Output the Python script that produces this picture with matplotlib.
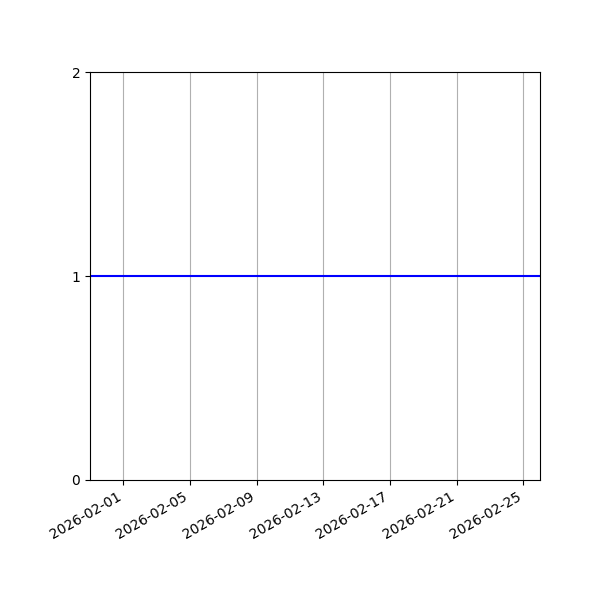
import matplotlib
matplotlib.use('Agg')
import matplotlib.pyplot as plt
import matplotlib.dates as mdates
import numpy as np
import datetime as dt

### Data

start = dt.datetime(2026, 1, 30)
dates = [start + dt.timedelta(days=i) for i in range(28)]
values = [1] * len(dates)

### Plot

fig = plt.figure(figsize=(6, 6), dpi=100)
ax = fig.add_subplot(1, 1, 1)
fig.subplots_adjust(left=0.15, right=0.9, top=0.88, bottom=0.2)

ax.plot(dates, values, color='blue', linewidth=1.5)

ax.set_xlim(dates[0], dates[-1])
ax.set_ylim(0, 2)
ax.set_yticks([0, 1, 2])

ax.xaxis.set_major_locator(mdates.DayLocator(bymonthday=[1, 5, 9, 13, 17, 21, 25]))
ax.xaxis.set_major_formatter(mdates.DateFormatter('%Y-%m-%d'))
ax.grid(True, axis='x', color='#b0b0b0')

for label in ax.get_xticklabels():
    label.set_rotation(30)
    label.set_horizontalalignment('right')

fig.savefig('out.png')
plt.close(fig)
